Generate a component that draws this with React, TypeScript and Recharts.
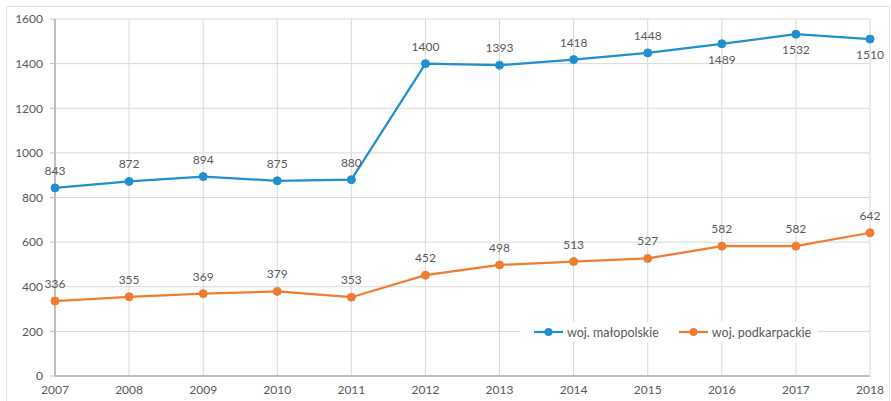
import { LineChart, Line, XAxis, YAxis, CartesianGrid, LabelList } from 'recharts'

const years = ['2007', '2008', '2009', '2010', '2011', '2012', '2013', '2014', '2015', '2016', '2017', '2018']
const malopolskie = [843, 872, 894, 875, 880, 1400, 1393, 1418, 1448, 1489, 1532, 1510]
const podkarpackie = [336, 355, 369, 379, 353, 452, 498, 513, 527, 582, 582, 642]
// labels drawn under the point instead of above
const malopolskieBelow = ['2016', '2017', '2018']
const yTicks = [0, 200, 400, 600, 800, 1000, 1200, 1400, 1600]

const BLUE = '#1f8fd0'
const ORANGE = '#f07c31'
const TEXT = '#595959'
const FONT = 'Lato, "Open Sans", sans-serif'

const data = years.map((year, i) => ({
  year,
  malopolskie: malopolskie[i],
  podkarpackie: podkarpackie[i],
}))

const makeLabel = (below: string[]) => (props: any) => {
  const { x, y, value, index } = props
  const isBelow = below.includes(years[index])
  return (
    <text
      x={x}
      y={isBelow ? y + 20 : y - 13}
      textAnchor="middle"
      fill={TEXT}
      fontSize={12}
      fontFamily={FONT}
    >
      {value}
    </text>
  )
}

const legendItems = [
  { name: 'woj. małopolskie', color: BLUE },
  { name: 'woj. podkarpackie', color: ORANGE },
]

// legend sits inside the plot on a white box, like the Excel original
const CustomLegend = () => (
  <div
    style={{
      position: 'absolute',
      left: 520,
      top: 322,
      width: 298,
      height: 20,
      background: '#fff',
      display: 'flex',
      alignItems: 'center',
      paddingLeft: 14,
      gap: 20,
      fontFamily: FONT,
      fontSize: 12.5,
      color: TEXT,
      boxSizing: 'border-box',
    }}
  >
    {legendItems.map((item) => (
      <div key={item.name} style={{ display: 'flex', alignItems: 'center', gap: 4 }}>
        <svg width={29} height={10}>
          <line x1={0} y1={5} x2={29} y2={5} stroke={item.color} strokeWidth={2.25} />
          <circle cx={14.5} cy={5} r={4} fill={item.color} />
        </svg>
        <span>{item.name}</span>
      </div>
    ))}
  </div>
)

export default function App() {
  return (
    <div style={{ position: 'absolute', left: 0, top: 0, width: 891, height: 401, background: '#fff', overflow: 'hidden' }}>
      <div
        style={{
          position: 'absolute',
          left: 6,
          top: 6,
          width: 882,
          height: 420,
          border: '1px solid #e3e3e3',
        }}
      />
      <LineChart
        width={891}
        height={401}
        data={data}
        margin={{ top: 19, right: 21, left: 0, bottom: 0 }}
        style={{ position: 'absolute', left: 0, top: 0 }}
      >
        <CartesianGrid stroke="#d9d9d9" strokeWidth={1} />
        <XAxis
          dataKey="year"
          height={25}
          tickLine={false}
          tickSize={0}
          tickMargin={9}
          axisLine={{ stroke: '#bfbfbf', strokeWidth: 2 }}
          tick={{ fill: TEXT, fontSize: 12, fontFamily: FONT }}
          interval={0}
        />
        <YAxis
          width={55}
          domain={[0, 1600]}
          ticks={yTicks}
          tickSize={5}
          tickMargin={7}
          tickLine={{ stroke: '#bfbfbf' }}
          axisLine={{ stroke: '#bfbfbf', strokeWidth: 2 }}
          tick={{ fill: TEXT, fontSize: 12, fontFamily: FONT }}
        />
        <Line
          type="linear"
          dataKey="malopolskie"
          name="woj. małopolskie"
          stroke={BLUE}
          strokeWidth={2.25}
          dot={{ r: 4, fill: BLUE, stroke: BLUE, strokeWidth: 1 }}
          isAnimationActive={false}
        >
          <LabelList dataKey="malopolskie" content={makeLabel(malopolskieBelow)} />
        </Line>
        <Line
          type="linear"
          dataKey="podkarpackie"
          name="woj. podkarpackie"
          stroke={ORANGE}
          strokeWidth={2.25}
          dot={{ r: 4, fill: ORANGE, stroke: ORANGE, strokeWidth: 1 }}
          isAnimationActive={false}
        >
          <LabelList dataKey="podkarpackie" content={makeLabel([])} />
        </Line>
      </LineChart>
      <CustomLegend />
    </div>
  )
}
